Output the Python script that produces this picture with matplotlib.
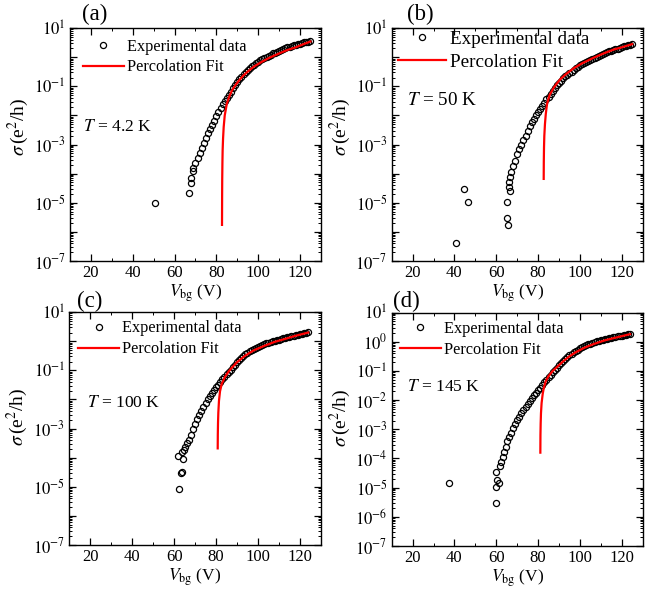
import numpy as np
import matplotlib
matplotlib.use("Agg")
import matplotlib.pyplot as plt
from matplotlib.ticker import FixedLocator, FuncFormatter, MultipleLocator, LogLocator, NullFormatter

plt.rcParams['font.family'] = ['Liberation Serif', 'DejaVu Serif']
plt.rcParams['mathtext.fontset'] = 'stix'

# ---- Panel (a) T = 4.2 K ----
v_a_low = [50.6, 67.1, 67.9, 68.1, 68.6]
lg_a_low = [-5.0, -4.67, -4.31, -4.16, -3.92]
v_a = list(range(69, 126))
lg_a = [-3.80, -3.63, -3.46, -3.29, -3.12, -2.96, -2.79, -2.62, -2.48, -2.33,
        -2.18, -2.03, -1.89, -1.75, -1.62, -1.51, -1.40, -1.29, -1.18, -1.07,
        -0.96, -0.86, -0.76, -0.67, -0.58, -0.50, -0.43, -0.37, -0.31, -0.26,
        -0.20, -0.15, -0.11, -0.07, -0.03, 0.01, 0.05, 0.09, 0.13, 0.16,
        0.19, 0.22, 0.25, 0.28, 0.31, 0.34, 0.36, 0.38, 0.41, 0.43,
        0.45, 0.47, 0.49, 0.51, 0.52, 0.54, 0.55]
fit_v_a = [82.7, 82.75, 82.8, 82.9, 83.0, 83.2, 83.5, 84.0, 85.0, 86.0, 87.4, 89.0,
           90.6, 93.0, 95.4, 98.0, 101.7, 105.0, 109.7, 114.0, 117.6, 121.0, 125.0]
fit_lg_a = [-5.76, -4.8, -4.2, -3.6, -3.2, -2.8, -2.4, -2.0, -1.6, -1.38, -1.15, -0.97,
            -0.82, -0.62, -0.47, -0.32, -0.16, -0.03, 0.12, 0.25, 0.33, 0.43, 0.54]

# ---- Panel (b) T = 50 K ----
v_b_low = [40.6, 44.6, 46.7, 65.2, 65.2, 65.7, 66.0, 66.5, 66.3, 66.8]
lg_b_low = [-6.38, -4.53, -4.96, -4.96, -5.51, -5.76, -4.45, -4.6, -4.27, -4.12]
v_b = list(range(67, 126))
lg_b = [-3.95, -3.74, -3.55, -3.32, -3.15, -3.0, -2.86, -2.70, -2.53, -2.37,
        -2.24, -2.11, -1.99, -1.88, -1.77, -1.66, -1.56, -1.45, -1.35, -1.25,
        -1.15, -1.05, -0.96, -0.88, -0.80, -0.73, -0.66, -0.60, -0.55, -0.49,
        -0.43, -0.38, -0.33, -0.28, -0.24, -0.20, -0.16, -0.12, -0.08, -0.05,
        -0.02, 0.01, 0.05, 0.08, 0.11, 0.14, 0.17, 0.20, 0.22, 0.25,
        0.27, 0.30, 0.32, 0.35, 0.37, 0.39, 0.41, 0.43, 0.45]
fit_v_b = [82.7, 82.75, 82.85, 83.0, 83.3, 83.7, 84.3, 85.5, 87.4, 89.0, 90.6, 93.0,
           97.0, 101.0, 106.5, 111.0, 116.0, 120.0, 125.0]
fit_lg_b = [-4.18, -3.6, -3.1, -2.7, -2.3, -1.95, -1.6, -1.3, -1.06, -0.9, -0.76, -0.6,
            -0.38, -0.21, -0.02, 0.12, 0.26, 0.34, 0.45]

# ---- Panel (c) T = 100 K ----
v_c_low = [62.5, 63.3, 63.6, 62.0, 64.4, 63.6, 64.9]
lg_c_low = [-5.08, -4.52, -4.5, -3.94, -4.03, -3.80, -3.74]
v_c = list(range(65, 125))
lg_c = [-3.62, -3.50, -3.38, -3.22, -3.02, -2.83, -2.67, -2.52, -2.38, -2.25,
        -2.12, -2.0, -1.89, -1.78, -1.68, -1.58, -1.49, -1.40, -1.31, -1.22,
        -1.14, -1.06, -0.97, -0.88, -0.80, -0.72, -0.65, -0.58, -0.51, -0.45,
        -0.40, -0.35, -0.31, -0.27, -0.23, -0.19, -0.16, -0.13, -0.10, -0.07,
        -0.05, -0.03, 0.0, 0.02, 0.04, 0.06, 0.08, 0.10, 0.12, 0.14,
        0.16, 0.17, 0.19, 0.21, 0.22, 0.24, 0.26, 0.27, 0.29, 0.31]
fit_v_c = [80.8, 80.85, 80.95, 81.1, 81.4, 81.9, 82.7, 84.3, 86.0, 87.4, 90.0, 93.8,
           98.0, 103.3, 108.0, 112.9, 118.0, 124.0]
fit_lg_c = [-3.68, -3.2, -2.8, -2.45, -2.05, -1.72, -1.47, -1.22, -1.04, -0.92, -0.72, -0.5,
            -0.31, -0.15, -0.02, 0.08, 0.19, 0.30]

# ---- Panel (d) T = 145 K ----
v_d_low = [37.4, 60.1, 60.1, 61.5, 60.5, 59.7, 62.0, 62.5, 63.1, 63.9, 64.6]
lg_d_low = [-4.85, -5.52, -4.97, -4.85, -4.74, -4.45, -4.26, -4.11, -3.94, -3.77, -3.60]
v_d = list(range(65, 125))
lg_d = [-3.40, -3.25, -3.11, -2.96, -2.82, -2.69, -2.57, -2.45, -2.34, -2.23,
        -2.12, -2.02, -1.92, -1.83, -1.74, -1.66, -1.57, -1.48, -1.39, -1.30,
        -1.22, -1.13, -1.05, -0.97, -0.89, -0.81, -0.74, -0.66, -0.59, -0.52,
        -0.46, -0.41, -0.36, -0.31, -0.27, -0.23, -0.19, -0.16, -0.12, -0.09,
        -0.06, -0.04, -0.01, 0.01, 0.03, 0.05, 0.07, 0.09, 0.11, 0.13,
        0.14, 0.16, 0.17, 0.19, 0.20, 0.21, 0.23, 0.24, 0.25, 0.26]
fit_v_d = [81.1, 81.15, 81.25, 81.4, 81.7, 82.2, 82.7, 83.7, 85.0, 87.0, 89.0, 92.0,
           95.0, 98.0, 102.0, 106.5, 112.0, 117.6, 124.0]
fit_lg_d = [-3.8, -3.2, -2.8, -2.45, -2.1, -1.8, -1.6, -1.35, -1.18, -1.0, -0.87, -0.67,
            -0.5, -0.36, -0.21, -0.08, 0.05, 0.15, 0.26]

temps = ["4.2", "50", "100", "145"]
letters = ["(a)", "(b)", "(c)", "(d)"]

fig = plt.figure(figsize=(6.5, 5.91), dpi=100)

# Achsenpositionen (Figurkoordinaten)
rects = [[0.1077, 0.5584, 0.386, 0.394],
         [0.6026, 0.5584, 0.386, 0.394],
         [0.1066, 0.0778, 0.387, 0.394],
         [0.6026, 0.0761, 0.386, 0.395]]
leg_pos = [(0.052, 0.955), (0.025, 0.99), (0.036, 0.965), (0.033, 0.965)]
leg_fs = [11.7, 13.8, 11.7, 11.7]
t_pos = [(0.053, 0.576), (0.06, 0.69), (0.072, 0.61), (0.062, 0.68)]
t_fs = [12.6, 13.8, 12.6, 12.6]
ylab_y = [0.575, 0.575, 0.55, 0.55]
letter_pos = [(0.145, 0.975), (0.647, 0.975), (0.138, 0.4895), (0.625, 0.4895)]

panels = [(v_a_low + v_a, lg_a_low + lg_a, fit_v_a, fit_lg_a),
          (v_b_low + v_b, lg_b_low + lg_b, fit_v_b, fit_lg_b),
          (v_c_low + v_c, lg_c_low + lg_c, fit_v_c, fit_lg_c),
          (v_d_low + v_d, lg_d_low + lg_d, fit_v_d, fit_lg_d)]


def odd_fmt(val, pos):
    e = int(round(np.log10(val)))
    if e % 2 == 0:
        return ""
    return r"$10^{%d}$" % e


def all_fmt(val, pos):
    e = int(round(np.log10(val)))
    return r"$10^{%d}$" % e


for i, (vx, lg, fv, flg) in enumerate(panels):
    ax = fig.add_axes(rects[i])
    ax.plot(vx, 10.0 ** np.array(lg), 'o', ms=4.4, mfc='none', mec='k', mew=0.9,
            label='Experimental data', zorder=2)
    ax.plot(fv, 10.0 ** np.array(flg), '-', color='#ff0000', lw=1.6,
            label='Percolation Fit', zorder=3)
    ax.set_yscale('log')
    ax.set_xlim(10, 130)
    ax.set_ylim(1e-7, 10)
    ax.xaxis.set_major_locator(MultipleLocator(20))
    ax.xaxis.set_minor_locator(MultipleLocator(10))
    ax.yaxis.set_major_locator(FixedLocator([10.0 ** k for k in range(-7, 2)]))
    ax.yaxis.set_minor_locator(LogLocator(base=10, subs=np.arange(2, 10), numticks=20))
    ax.yaxis.set_minor_formatter(NullFormatter())
    if i == 3:
        ax.yaxis.set_major_formatter(FuncFormatter(all_fmt))
    else:
        ax.yaxis.set_major_formatter(FuncFormatter(odd_fmt))
    ax.tick_params(which='both', direction='in', top=True, right=True, labelsize=12)
    ax.tick_params(which='major', length=5, width=0.9, pad=3)
    ax.tick_params(which='minor', length=2.5, width=0.7)
    for sp in ax.spines.values():
        sp.set_linewidth(1.0)

    ax.set_xlabel(r"$V_{\rm bg}$ (V)", fontsize=12.5, labelpad=1)
    ax.set_ylabel(r"$\sigma\,$(e$^2$/h)", fontsize=14)
    ax.yaxis.set_label_coords(-0.155, ylab_y[i])

    ax.legend(loc='upper left', bbox_to_anchor=leg_pos[i], frameon=False,
              fontsize=leg_fs[i], numpoints=1, handlelength=2.5, handletextpad=0.2,
              labelspacing=0.3, borderaxespad=0, borderpad=0)
    ax.text(t_pos[i][0], t_pos[i][1], r"$T$ = %s K" % temps[i], transform=ax.transAxes,
            fontsize=t_fs[i], va='center', ha='left')
    fig.text(letter_pos[i][0], letter_pos[i][1], letters[i], fontsize=16.5,
             ha='center', va='center')

fig.savefig("out.png", dpi=100)
